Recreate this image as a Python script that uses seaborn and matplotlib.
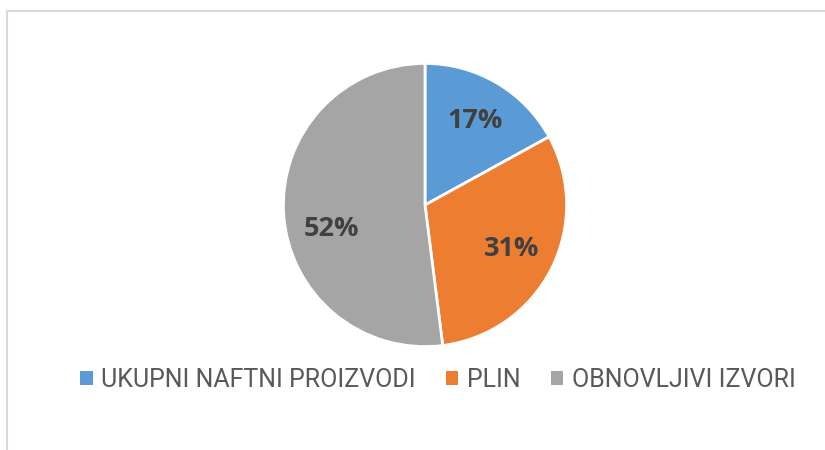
import matplotlib
matplotlib.use("Agg")
import matplotlib.pyplot as plt
from matplotlib.lines import Line2D
from matplotlib.patches import Patch
import seaborn as sns

sns.set_theme(style="white")
plt.rcParams['font.family'] = ['Roboto', 'DejaVu Sans']

# data
categories = ["UKUPNI NAFTNI PROIZVODI", "PLIN", "OBNOVLJIVI IZVORI"]
shares = [17, 31, 52]
colors = ["#5B9BD5", "#ED7D31", "#A5A5A5"]

W, H = 825, 450
fig = plt.figure(figsize=(W / 100, H / 100), dpi=100)

# frame around the chart area (only top and left visible in the source)
fig.add_artist(Line2D([6.5 / W, 1], [1 - 10.5 / H] * 2, color="#D9D9D9", lw=1.5))
fig.add_artist(Line2D([6.5 / W] * 2, [0, 1 - 10.5 / H], color="#D9D9D9", lw=1.5))

cx, cy, r = 425, 205, 143
ax = fig.add_axes([(cx - r) / W, (H - cy - r) / H, 2 * r / W, 2 * r / H])
wedges, texts, autotexts = ax.pie(
    shares, colors=colors, startangle=90, counterclock=False,
    autopct="%d%%", pctdistance=0.69,
    wedgeprops=dict(edgecolor="white", linewidth=2),
    textprops=dict(color="#404040", fontsize=19.5, fontweight="bold",
                   family=["Open Sans", "DejaVu Sans"]),
)
# Excel nudges the big slice's label a bit lower
autotexts[2].set_position((-0.66, -0.17))
ax.set_xlim(-1.01, 1.01)
ax.set_ylim(-1.01, 1.01)
ax.set_aspect("equal")
ax.axis("off")

handles = [Patch(facecolor=c, edgecolor="none") for c in colors]
fig.legend(handles, categories, loc="center", bbox_to_anchor=(438 / W, 1 - 380 / H),
           ncol=3, frameon=False, fontsize=18, handlelength=0.5, handleheight=0.5,
           handletextpad=0.35, columnspacing=1.2, labelcolor="#595959")

fig.savefig("out.png", dpi=100)
